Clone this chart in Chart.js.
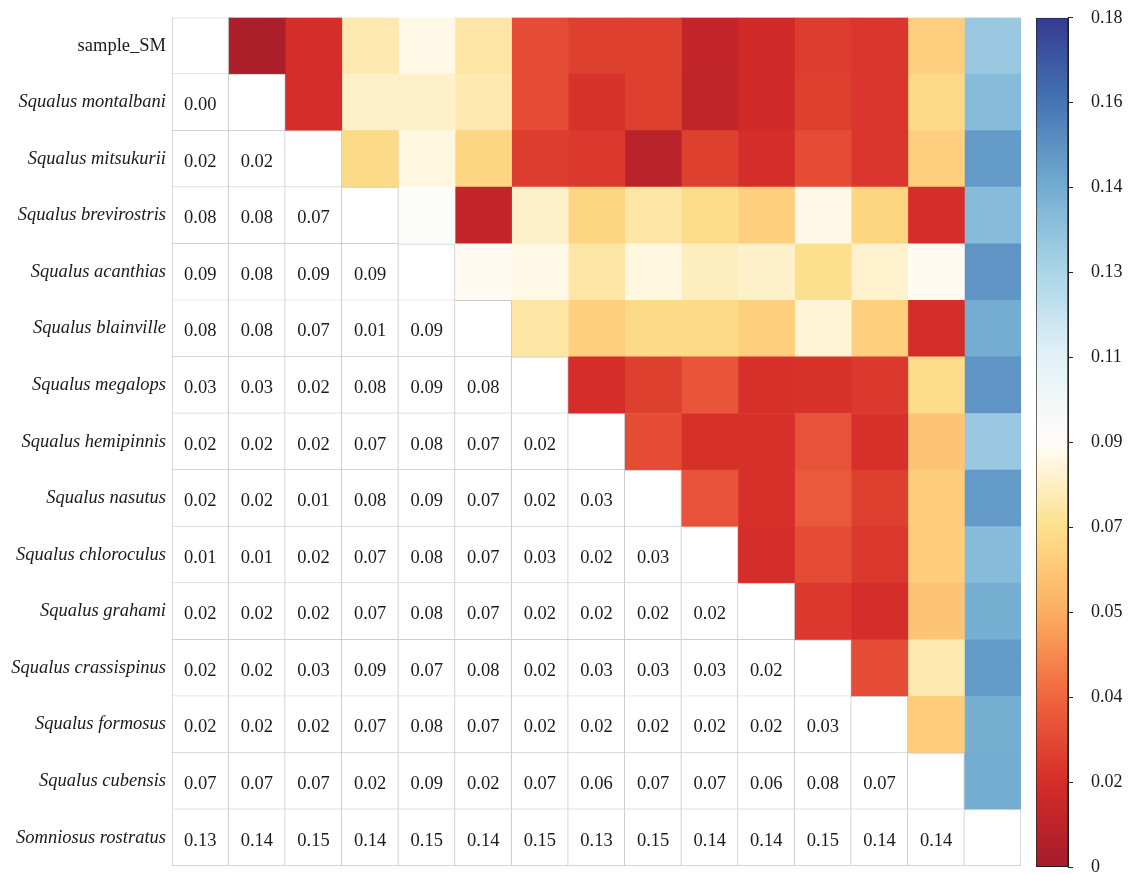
<!DOCTYPE html>
<html>
<head>
<meta charset="utf-8">
<script src="https://cdn.jsdelivr.net/npm/chart.js@4.4.1/dist/chart.umd.min.js"></script>
<style>
  html, body { margin: 0; padding: 0; background: #fff; overflow: hidden; }
  #wrap { position: relative; width: 1130px; height: 874px; overflow: hidden; }
  #heatChart { position: absolute; left: 0; top: 0; }
  /* shifted up: the axis reserves tick padding above the top label */
  #scaleChart { position: absolute; left: 1030px; top: -11.5px; }
</style>
</head>
<body>
<div id="wrap">
  <canvas id="heatChart" width="1030" height="900"></canvas>
  <canvas id="scaleChart" width="100" height="907"></canvas>
</div>
<script>
const species = [
  "sample_SM",
  "Squalus montalbani",
  "Squalus mitsukurii",
  "Squalus brevirostris",
  "Squalus acanthias",
  "Squalus blainville",
  "Squalus megalops",
  "Squalus hemipinnis",
  "Squalus nasutus",
  "Squalus chloroculus",
  "Squalus grahami",
  "Squalus crassispinus",
  "Squalus formosus",
  "Squalus cubensis",
  "Somniosus rostratus"
];

// lower triangle of the distance matrix, row i holds columns 0..i-1
const distRows = [
  [],
  [0.003],
  [0.018, 0.018],
  [0.078, 0.082, 0.070],
  [0.087, 0.082, 0.086, 0.092],
  [0.076, 0.078, 0.068, 0.011, 0.089],
  [0.028, 0.028, 0.023, 0.082, 0.087, 0.076],
  [0.024, 0.020, 0.022, 0.068, 0.076, 0.066, 0.018],
  [0.024, 0.024, 0.008, 0.076, 0.086, 0.070, 0.024, 0.028],
  [0.011, 0.010, 0.024, 0.071, 0.080, 0.070, 0.031, 0.019, 0.030],
  [0.016, 0.016, 0.018, 0.066, 0.082, 0.066, 0.019, 0.019, 0.019, 0.018],
  [0.023, 0.024, 0.028, 0.087, 0.072, 0.084, 0.020, 0.030, 0.032, 0.028, 0.022],
  [0.021, 0.021, 0.021, 0.068, 0.083, 0.066, 0.022, 0.019, 0.024, 0.022, 0.018, 0.028],
  [0.066, 0.069, 0.066, 0.018, 0.089, 0.018, 0.071, 0.062, 0.065, 0.065, 0.062, 0.078, 0.065],
  [0.132, 0.138, 0.150, 0.138, 0.152, 0.144, 0.152, 0.132, 0.150, 0.138, 0.143, 0.150, 0.143, 0.144]
];

const scaleMin = 0;
const scaleMax = 0.18;
const scaleTicks = [0, 0.018, 0.036, 0.054, 0.072, 0.09, 0.108, 0.126, 0.144, 0.162, 0.18];

// red - cream - white - blue, low to high
const palette = [
  "#a51b2b", "#d52d29", "#f0653f", "#fcae60", "#fde08d", "#fffdf8",
  "#e2f1f7", "#abd6e8", "#74add1", "#4575b4", "#353a92"
];

const serif = "'Liberation Serif', 'Times New Roman', serif";
const gridGray = "#c8c8c8";
const textColor = "#1a1a1a";

function dist(i, j) {
  if (i === j) return null;
  return i > j ? distRows[i][j] : distRows[j][i];
}

function hexToRgb(h) {
  return [
    parseInt(h.slice(1, 3), 16),
    parseInt(h.slice(3, 5), 16),
    parseInt(h.slice(5, 7), 16)
  ];
}

function colorAt(v) {
  let t = (v - scaleMin) / (scaleMax - scaleMin);
  t = Math.max(0, Math.min(1, t)) * (palette.length - 1);
  const k = Math.min(Math.floor(t), palette.length - 2);
  const f = t - k;
  const a = hexToRgb(palette[k]);
  const b = hexToRgb(palette[k + 1]);
  const c = a.map((x, n) => Math.round(x + (b[n] - x) * f));
  return "rgb(" + c.join(",") + ")";
}

const n = species.length;

// one dataset per column, floating bar [j, j+1] in every row
const datasets = species.map((_, j) => ({
  label: species[j],
  data: species.map(() => [j, j + 1]),
  grouped: false,
  barPercentage: 1,
  categoryPercentage: 1,
  borderSkipped: false,
  backgroundColor: species.map((_, i) =>
    j > i ? colorAt(dist(i, j)) : "#ffffff"
  ),
  borderColor: gridGray,
  borderWidth: species.map((_, i) =>
    j > i
      ? 0
      : {
          top: (i === 0 || i === j) ? 1 : 0,
          left: j === 0 ? 1 : 0,
          right: 1,
          bottom: 1
        }
  )
}));

const cellText = {
  id: "cellText",
  afterDatasetsDraw(chart) {
    const ctx = chart.ctx;
    ctx.save();
    ctx.font = "18.5px " + serif;
    ctx.fillStyle = textColor;
    ctx.textAlign = "center";
    ctx.textBaseline = "middle";
    for (let j = 0; j < n; j++) {
      const meta = chart.getDatasetMeta(j);
      for (let i = j + 1; i < n; i++) {
        const el = meta.data[i];
        const p = el.getCenterPoint();
        const v = Math.round(dist(i, j) * 100) / 100;
        ctx.fillText(v.toFixed(2), p.x, p.y + 3);
      }
    }
    ctx.restore();
  }
};

new Chart(document.getElementById("heatChart"), {
  type: "bar",
  data: {
    labels: species,
    datasets
  },
  options: {
    indexAxis: "y",
    responsive: false,
    animation: false,
    layout: {
      padding: { left: 0, top: 17.5, right: 9, bottom: 34 }
    },
    scales: {
      x: {
        type: "linear",
        min: 0,
        max: n,
        display: false
      },
      y: {
        type: "category",
        grid: { display: false, drawTicks: false },
        border: { display: false },
        afterFit(axis) {
          axis.width = 172;
        },
        ticks: {
          padding: 6,
          color: textColor,
          autoSkip: false,
          font: (c) => ({
            family: serif,
            size: 18.5,
            style: c.index === 0 ? "normal" : "italic"
          })
        }
      }
    },
    plugins: {
      legend: { display: false },
      tooltip: { enabled: false }
    }
  },
  plugins: [cellText]
});

new Chart(document.getElementById("scaleChart"), {
  type: "bar",
  data: {
    labels: [""],
    datasets: [{
      data: [[scaleMin, scaleMax]],
      barPercentage: 1,
      categoryPercentage: 1,
      borderSkipped: false,
      borderWidth: 1,
      borderColor: "#222",
      backgroundColor: (c) => {
        const area = c.chart.chartArea;
        if (!area) return "#ffffff";
        const g = c.chart.ctx.createLinearGradient(0, area.bottom, 0, area.top);
        palette.forEach((col, k) =>
          g.addColorStop(k / (palette.length - 1), col)
        );
        return g;
      }
    }]
  },
  options: {
    responsive: false,
    animation: false,
    layout: {
      padding: { left: 6, top: 0, right: 0, bottom: 0 }
    },
    scales: {
      x: { display: false },
      y: {
        position: "right",
        min: scaleMin,
        max: scaleMax,
        afterFit(axis) {
          axis.width = 62;
        },
        afterBuildTicks(axis) {
          axis.ticks = scaleTicks.map(v => ({ value: v }));
        },
        grid: {
          drawOnChartArea: false,
          drawTicks: true,
          tickLength: 5,
          color: "#222"
        },
        border: { display: true, color: "#222" },
        ticks: {
          padding: 18,
          color: textColor,
          font: { family: serif, size: 18 },
          callback: (v) => v === 0 ? "0" : v.toFixed(2)
        }
      }
    },
    plugins: {
      legend: { display: false },
      tooltip: { enabled: false }
    }
  }
});
</script>
</body>
</html>
